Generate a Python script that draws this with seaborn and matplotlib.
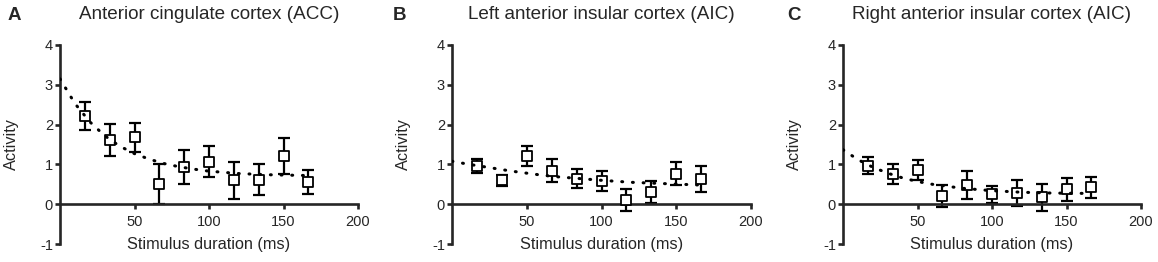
import numpy as np
import pandas as pd
import matplotlib
matplotlib.use('Agg')
import matplotlib.pyplot as plt
import seaborn as sns

# durações dos estímulos (ms)
duracao = [16.7, 33.3, 50.0, 66.7, 83.3, 100.0, 116.7, 133.3, 150.0, 166.7]

# atividade média e erro padrão por região
acc_media = [2.21, 1.61, 1.68, 0.50, 0.94, 1.07, 0.60, 0.62, 1.21, 0.56]
acc_erro = [0.35, 0.40, 0.37, 0.50, 0.42, 0.38, 0.47, 0.38, 0.46, 0.31]
laic_media = [0.96, 0.60, 1.20, 0.84, 0.64, 0.59, 0.10, 0.31, 0.77, 0.64]
laic_erro = [0.17, 0.14, 0.25, 0.29, 0.24, 0.25, 0.27, 0.27, 0.28, 0.33]
raic_media = [0.97, 0.76, 0.87, 0.20, 0.48, 0.25, 0.29, 0.17, 0.37, 0.42]
raic_erro = [0.22, 0.26, 0.25, 0.28, 0.35, 0.21, 0.33, 0.33, 0.30, 0.26]

# curva ajustada (pontilhada)
curva_x = [0, 10, 20, 30, 40, 50, 60, 70, 80, 90, 100, 120, 140, 167]
acc_curva = [3.15, 2.53, 2.07, 1.72, 1.46, 1.27, 1.13, 1.02, 0.94, 0.88, 0.83, 0.77, 0.74, 0.72]
laic_curva = [1.08, 1.01, 0.95, 0.89, 0.83, 0.78, 0.73, 0.69, 0.66, 0.63, 0.60, 0.55, 0.52, 0.48]
raic_curva = [1.37, 1.12, 0.93, 0.78, 0.66, 0.57, 0.50, 0.45, 0.40, 0.37, 0.34, 0.30, 0.28, 0.27]

titulos = ['Anterior cingulate cortex (ACC)', 'Left anterior insular cortex (AIC)',
           'Right anterior insular cortex (AIC)']
letras = ['A', 'B', 'C']

sns.set_style('ticks')
plt.rcParams['font.family'] = ['Liberation Sans', 'DejaVu Sans']
plt.rcParams['axes.unicode_minus'] = False

fig = plt.figure(figsize=(11.58, 2.62), dpi=100)

# posições dos eixos em pixels (esquerda, direita)
W, H = 1158, 262
paineis = [(60, 358), (452, 751), (843, 1141)]
letra_x = [8, 393, 787]

dados = [(acc_media, acc_erro, acc_curva), (laic_media, laic_erro, laic_curva),
         (raic_media, raic_erro, raic_curva)]

for i, (media, erro, curva) in enumerate(dados):
    esq, dir_ = paineis[i]
    ax = fig.add_axes([esq / W, 1 - 244 / H, (dir_ - esq) / W, 199 / H])
    df = pd.DataFrame({'duracao': duracao, 'atividade': media, 'erro': erro})
    df_curva = pd.DataFrame({'x': curva_x, 'y': curva})

    ax.errorbar(df['duracao'], df['atividade'], yerr=df['erro'], fmt='none',
                ecolor='black', elinewidth=1.6, capsize=4.2, capthick=1.6, zorder=2)
    sns.scatterplot(x='duracao', y='atividade', data=df, marker='s', s=50,
                    facecolor='white', edgecolor='black', linewidth=1.3, ax=ax, zorder=3)
    sns.lineplot(x='x', y='y', data=df_curva, color='black', linewidth=2.2,
                 linestyle=(0, (0.3, 3.2)), dash_capstyle='round', ax=ax, zorder=4)

    ax.set_xlim(0, 200)
    ax.set_ylim(-1, 4)
    ax.set_xticks([50, 100, 150, 200])
    ax.set_yticks([-1, 0, 1, 2, 3, 4])
    ax.spines['top'].set_visible(False)
    ax.spines['right'].set_visible(False)
    ax.spines['bottom'].set_position(('data', 0))
    for s in ['left', 'bottom']:
        ax.spines[s].set_linewidth(1.9)
    ax.tick_params(axis='both', direction='out', length=3.6, width=1.9,
                   labelsize=10.5)
    ax.tick_params(axis='x', pad=4)
    ax.tick_params(axis='y', pad=1.5)
    ax.set_xlabel('Stimulus duration (ms)', fontsize=11.7)
    ax.xaxis.set_label_coords(0.5, 0.035)
    ax.set_ylabel('Activity', fontsize=11.7)
    ax.yaxis.set_label_coords(-0.138, 0.5)
    ax.set_title(titulos[i], fontsize=13.6, pad=19)
    fig.text(letra_x[i] / W, 1 - 20 / H, letras[i], fontsize=13.5,
             fontweight='bold', va='baseline')

fig.savefig('out.png', dpi=100)
